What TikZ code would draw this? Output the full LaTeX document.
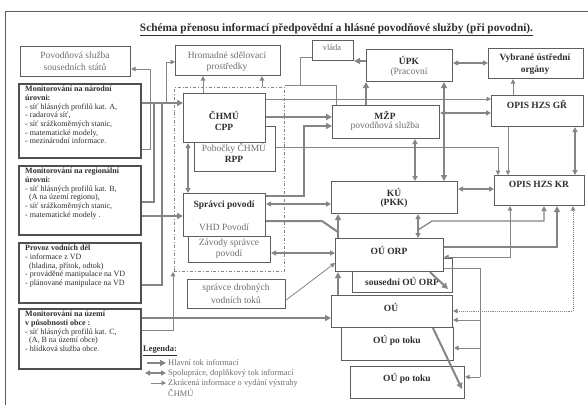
\documentclass[tikz,border=0pt]{standalone}
\usepackage{fontspec}
\setmainfont{Liberation Serif}
\usetikzlibrary{arrows.meta}
\definecolor{ln}{HTML}{858585}
\definecolor{bd}{HTML}{5E5E5E}
\definecolor{tx}{HTML}{2E2E2E}
\definecolor{tg}{HTML}{6E6E6E}
\newcommand{\mybox}[6][bx]{\node[#1,anchor=north west,minimum width=#5pt,minimum height=#6pt] (#2) at (#3,#4) {};}
\begin{document}
\begin{tikzpicture}[x=1pt,y=-1pt,
 bx/.style={draw=bd,line width=1.1pt,fill=white,inner sep=0pt},
 mbx/.style={draw=bd!85!black,line width=1.5pt,fill=white,inner sep=0pt},
 grpbox/.style={draw=ln,line width=0.8pt,dash dot,inner sep=0pt},
 bt/.style={font=\fontsize{9.5}{11}\selectfont\bfseries,text=tx,inner sep=0pt},
 rt/.style={font=\fontsize{9.5}{11}\selectfont,text=tg,inner sep=0pt},
 ltx/.style={anchor=north west,align=left,inner sep=0pt,font=\fontsize{8}{8.7}\selectfont,text=tx},
 lgt/.style={anchor=west,inner sep=0pt,font=\fontsize{8.4}{9}\selectfont,text=tg},
 M/.style={draw=ln,line width=2pt,-{Triangle[length=6pt,width=6pt]}},
 Mn/.style={draw=ln,line width=2pt},
 C/.style={draw=ln,line width=1.3pt,{Triangle[length=5pt,width=5pt]}-{Triangle[length=5pt,width=5pt]}},
 CM/.style={draw=ln,line width=2pt,{Triangle[length=6pt,width=6pt]}-{Triangle[length=6pt,width=6pt]}},
 Cs/.style={draw=ln,line width=1.3pt,-{Triangle[length=5pt,width=5pt]}},
 T/.style={draw=ln,line width=0.8pt,-{Triangle[length=4.5pt,width=4.5pt]}},
 T2/.style={draw=ln,line width=0.8pt,{Triangle[length=4.5pt,width=4.5pt]}-{Triangle[length=4.5pt,width=4.5pt]}},
 Tn/.style={draw=ln,line width=0.8pt},
 D/.style={draw=ln,line width=0.9pt,densely dotted,{Triangle[length=4.5pt,width=4.5pt]}-{Triangle[length=4.5pt,width=4.5pt]}}
]
\useasboundingbox (0,0) rectangle (588,405);
\fill[white] (0,0) rectangle (588,405);
% frame
\draw[bd,line width=1pt] (5,405) -- (5,11) -- (588,11);
% title
\node[font=\fontsize{11.3}{13}\selectfont\bfseries,text=tx,inner sep=0pt] (title) at (336.5,30) {\underline{Schéma přenosu informací předpovědní a hlásné povodňové služby (při povodni).}};
% group
\mybox[grpbox]{grp}{174}{87}{110}{184}
% boxes
\mybox{pss}{20}{46}{110}{30}
\mybox{hsp}{175}{45}{105}{30}
\mybox{vlada}{312}{40}{41}{20}
\mybox{upk}{366}{49}{86}{32}
\mybox{vyb}{488}{48}{95}{30}
\mybox{gr}{491}{95}{92}{31}
\mybox{mzp}{332}{105}{107}{33}
\mybox{pob}{194}{126}{81}{45}
\mybox{chmu}{183}{93}{82}{49}
\mybox{zav}{188}{236}{82}{26}
\mybox{spr}{183}{193}{82}{43}
\mybox{sdt}{187}{279}{98}{29}
\mybox{ku}{331}{181}{126}{32}
\mybox{kr}{494}{175}{90}{30}
\mybox{sou}{352}{258}{100}{34}
\mybox{orp}{335}{238}{108}{33}
\mybox{ou}{331}{295}{121}{32}
\mybox{pt1}{341}{327}{112}{33}
\mybox{pt2}{350}{366}{114}{32}
\mybox[mbx]{mn}{18}{83}{122}{74}
\mybox[mbx]{mr}{18}{165}{122}{69}
\mybox[mbx]{pv}{18}{242}{122}{60}
\mybox[mbx]{mo}{18}{308}{122}{60}
% box texts
\node[rt] (pss1) at (75,55) {Povodňová služba};
\node[rt] (pss2) at (75,67) {sousedních států};
\node[rt] (hsp1) at (227,55) {Hromadné sdělovací};
\node[rt] (hsp2) at (227,67) {prostředky};
\node[rt,font=\fontsize{8.5}{10}\selectfont] (vl1) at (332,48) {vláda};
\node[bt] (upk1) at (409,60) {ÚPK};
\node[rt] (upk2) at (409,72) {(Pracovní};
\node[bt] (vyb1) at (535,58) {Vybrané ústřední};
\node[bt] (vyb2) at (535,70) {orgány};
\node[bt] (gr1) at (537,104) {OPIS HZS GŘ};
\node[bt] (mzp1) at (385,115) {MŽP};
\node[rt] (mzp2) at (385,126) {povodňová služba};
\node[bt] (chmu1) at (224,115) {ČHMÚ};
\node[bt] (chmu2) at (224,127) {CPP};
\node[rt] (pob1) at (234,148) {Pobočky ČHMÚ};
\node[bt] (pob2) at (234,159) {RPP};
\node[bt] (spr1) at (224,205) {Správci povodí};
\node[rt] (spr2) at (224,227) {VHD Povodí};
\node[rt] (zav1) at (229,243) {Závody správce};
\node[rt] (zav2) at (229,254) {povodí};
\node[rt] (sdt1) at (236,288) {správce drobných};
\node[rt] (sdt2) at (236,300) {vodních toků};
\node[bt] (ku1) at (394,192) {KÚ};
\node[bt] (ku2) at (394,203) {(PKK)};
\node[bt] (kr1) at (539,184) {OPIS HZS KR};
\node[bt] (orp1) at (389,250) {OÚ ORP};
\node[bt] (sou1) at (402,281) {sousední OÚ ORP};
\node[bt] (ou1) at (391,307) {OÚ};
\node[bt] (pt1t) at (397,340) {OÚ po toku};
\node[bt] (pt2t) at (407,378) {OÚ po toku};
\node[ltx] (mnt) at (25,86) {\textbf{Monitorování na národní}\\\textbf{úrovni:}\\- síť hlásných profilů kat. A,\\- radarová síť,\\- síť srážkoměrných stanic,\\- matematické modely,\\- mezinárodní informace.};
\node[ltx] (mrt) at (25,168) {\textbf{Monitorování na regionální}\\\textbf{úrovni:}\\- síť hlásných profilů kat. B,\\\ \ (A na území regionu),\\- síť srážkoměrných stanic,\\- matematické modely .};
\node[ltx] (pvt) at (25,245) {\textbf{Provoz vodních děl}\\- informace z VD\\\ \ (hladina, přítok, odtok)\\- prováděné manipulace na VD\\- plánované manipulace na VD};
\node[ltx] (mot) at (25,311) {\textbf{Monitorování na území}\\\textbf{v působnosti obce :}\\- síť hlásných profilů kat. C,\\\ \ (A, B na území obce)\\- hlídková služba obce.};
% junctions
\coordinate (j1) at (154,103);
\coordinate (j2) at (162,103);
\coordinate (j3) at (166,103);
\coordinate (j4) at (150,69);
\coordinate (j6) at (304,160);
\coordinate (j7) at (300,85);
\coordinate (j8) at (322,221);
\coordinate (j9) at (338,232);
\coordinate (j10) at (418,230);
\coordinate (j11) at (432,221);
\coordinate (j12) at (448,289);
\coordinate (j13) at (462,389);
\coordinate (j14) at (480,377);
\coordinate (j15) at (480,320);
\coordinate (j16) at (480,348);
% connectors
\draw[M] (mn.east |- 0,103) -- (chmu.west |- 0,103);
\draw[Mn] (mr.east |- 0,202) -| (j1);
\draw[Mn] (pv.east |- 0,285) -| (j2);
\draw[M] (mr.east |- 0,216) -- (spr.west |- 0,216);
\draw[T] (mn.east |- 0,149) -| (j4) -- (pss.east |- j4);
\draw[T] (j3) |- (hsp.west |- 0,62);
\draw[T] (chmu.north -| 203,0) -- (hsp.south -| 203,0);
\draw[T] (grp.north -| 262,0) -- (hsp.south -| 262,0);
\draw[C] (chmu.south -| 188,0) -- (spr.north -| 188,0);
\draw[M] (chmu.east |- 0,117) -- (mzp.west |- 0,117);
\draw[M] (spr.east |- 0,196) -| (j6) |- (mzp.west |- 0,126);
\draw[T] (chmu.east |- 0,99) -- (gr.west |- 0,99);
\draw[C] (spr.east |- 0,204) -- (ku.west |- 0,204);
\draw[T] (pob.east |- 0,147) -| (kr.north -| 498,0);
\draw[Tn] (vlada.west |- 0,57) -| (j7);
\draw[Tn] (grp.east |- 0,85) -| (mzp.north -| 336,0);
\draw[M] (mzp.north -| 366,0) -- (upk.south -| 366,0);
\draw[M] (upk.west |- 0,61) -- (vlada.east |- 0,61);
\draw[C] (upk.east |- 0,63) -- (vyb.west |- 0,63);
\draw[CM] (upk.south -| 444,0) -- (ku.north -| 444,0);
\draw[C] (mzp.east |- 0,113) -- (gr.west |- 0,113);
\draw[T] (gr.north -| 513,0) -- (vyb.south -| 513,0);
\draw[T] (gr.south -| 508,0) -- (kr.north -| 508,0);
\draw[C] (gr.south -| 575,0) -- (kr.north -| 575,0);
\draw[C] (mzp.south -| 415,0) -- (ku.north -| 415,0);
\draw[C] (ku.east |- 0,189) -- (kr.west |- 0,189);
\draw[M] (orp.north -| 338,0) -- (ku.south -| 338,0);
\draw[Mn] (spr.east |- 0,221) -- (j8) -- (j9);
\draw[C] (ku.south -| 418,0) -- (orp.north -| 418,0);
\draw[Cs] (j10) -- (j11) -| (kr.south -| 544,0);
\draw[M] (orp.east |- 0,247) -| (kr.south -| 557,0);
\draw[T2] (orp.east |- 0,257) -| (kr.south -| 510,0);
\draw[C] (zav.east |- 0,253) -- (orp.west |- 0,253);
\draw[T] (sdt.east |- 0,300) -- (orp.west |- 0,263);
\draw[M] (ou.north -| 338,0) -- (orp.south -| 338,0);
\draw[M] (mo.east |- 0,318) -- (ou.west |- 0,318);
\draw[T] (mo.east |- 0,330) -| (grp.south -| 173,0);
\draw[M] (orp.south -| 430,0) -- (j12);
\draw[M] (ou.south -| 433,0) -- (j13);
\draw[D] (ou.east |- 0,311) -| (kr.south -| 573,0);
\draw[Tn] (orp.east |- 0,268) -| (j14);
\draw[T] (j15) -- (ou.east |- j15);
\draw[T] (j16) -- (pt1.east |- j16);
\draw[T] (j14) -- (pt2.east |- j14);
% legend
\node[font=\fontsize{8.4}{9}\selectfont\bfseries,text=tx,anchor=west,inner sep=0pt] (lg) at (143,351) {\underline{Legenda:}};
\coordinate (la1) at (147,363); \coordinate (lb1) at (166,363);
\coordinate (la2) at (145,373); \coordinate (lb2) at (166,373);
\coordinate (la3) at (151,383); \coordinate (lb3) at (166,383);
\draw[M] (la1) -- (lb1);
\draw[C] (la2) -- (lb2);
\draw[T] (la3) -- (lb3);
\node[lgt] (lt1) at (168,363) {Hlavní tok informací};
\node[lgt] (lt2) at (168,373) {Spolupráce, doplňkový tok informací};
\node[lgt] (lt3) at (168,383) {Zkrácená informace o vydání výstrahy};
\node[lgt] (lt4) at (168,393) {ČHMÚ};
\end{tikzpicture}
\end{document}
